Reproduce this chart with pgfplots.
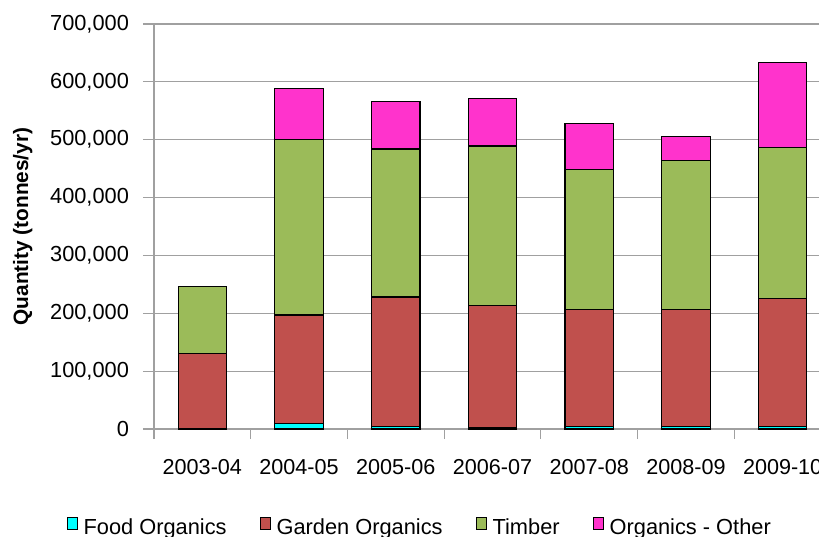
\documentclass[border=0pt]{standalone}
\usepackage{fontspec}
\setmainfont{Liberation Sans}
\usepackage{pgfplots}
\pgfplotsset{compat=1.18}
\definecolor{cfood}{HTML}{00FFFF}
\definecolor{cgarden}{HTML}{C0504D}
\definecolor{ctimber}{HTML}{9BBB59}
\definecolor{cother}{HTML}{FF33CC}
\definecolor{gridc}{HTML}{A0A0A0}
\begin{document}
\begin{tikzpicture}
\begin{axis}[
  name=ax,
  scale only axis,
  width=338.5pt, height=202.5pt,
  ybar stacked, bar width=0.5,
  xmin=-0.5, xmax=6.5, ymin=0, ymax=700000,
  xtick={0,1,2,3,4,5,6},
  xticklabels={2003-04,2004-05,2005-06,2006-07,2007-08,2008-09,2009-10},
  minor xtick={-0.5,0.5,1.5,2.5,3.5,4.5,5.5,6.5},
  major x tick style={draw=none},
  minor x tick style={draw=gridc, line width=0.6pt},
  ytick={0,100000,200000,300000,400000,500000,600000,700000},
  y tick style={draw=gridc, line width=0.6pt},
  tick align=outside,
  major tick length=5.5pt, minor tick length=5pt,
  ymajorgrids, grid style={draw=gridc, line width=0.6pt},
  axis lines*=left,
  axis line style={draw=gridc, line width=0.6pt},
  scaled y ticks=false,
  /pgf/number format/assume math mode=true,
  yticklabel style={/pgf/number format/fixed, /pgf/number format/1000 sep={,}, font=\fontsize{10.9}{12}\selectfont, xshift=-3.5pt},
  xticklabel style={font=\fontsize{10.8}{12}\selectfont, yshift=-6pt},
  ylabel={Quantity (tonnes/yr)},
  ylabel style={at={(axis description cs:-0.194,0.5)}, anchor=center, font=\fontsize{10.4}{12}\selectfont\bfseries},
  legend columns=4,
  legend image code/.code={\draw[#1, draw=black, line width=0.5pt] (0pt,-0.5pt) rectangle (5pt,5.5pt);},
  legend style={at={(0.394,-0.245)}, anchor=center, draw=none, fill=none,
    font=\fontsize{10.9}{12}\selectfont,
    /tikz/every odd column/.append style={column sep=1pt},
    /tikz/every even column/.append style={column sep=14.5pt}},
  every axis plot/.append style={draw=black, line width=0.6pt},
]
\addplot[fill=cfood, draw=black] coordinates {(0,0) (1,10000) (2,5000) (3,2000) (4,5000) (5,5000) (6,5000)};
\addplot[fill=cgarden, draw=black] coordinates {(0,130000) (1,187000) (2,223000) (3,211000) (4,202000) (5,202000) (6,220000)};
\addplot[fill=ctimber, draw=black] coordinates {(0,116000) (1,303000) (2,256000) (3,276000) (4,241000) (5,257000) (6,261000)};
\addplot[fill=cother, draw=black] coordinates {(0,0) (1,89000) (2,82000) (3,82000) (4,80000) (5,41000) (6,148000)};
\legend{Food Organics, Garden Organics, Timber, Organics - Other}
\end{axis}
\pgfresetboundingbox
\path[use as bounding box] ([shift={(-77pt,-53.5pt)}]ax.south west) rectangle ([shift={(332.5pt,214.5pt)}]ax.south west);
\end{tikzpicture}
\end{document}
